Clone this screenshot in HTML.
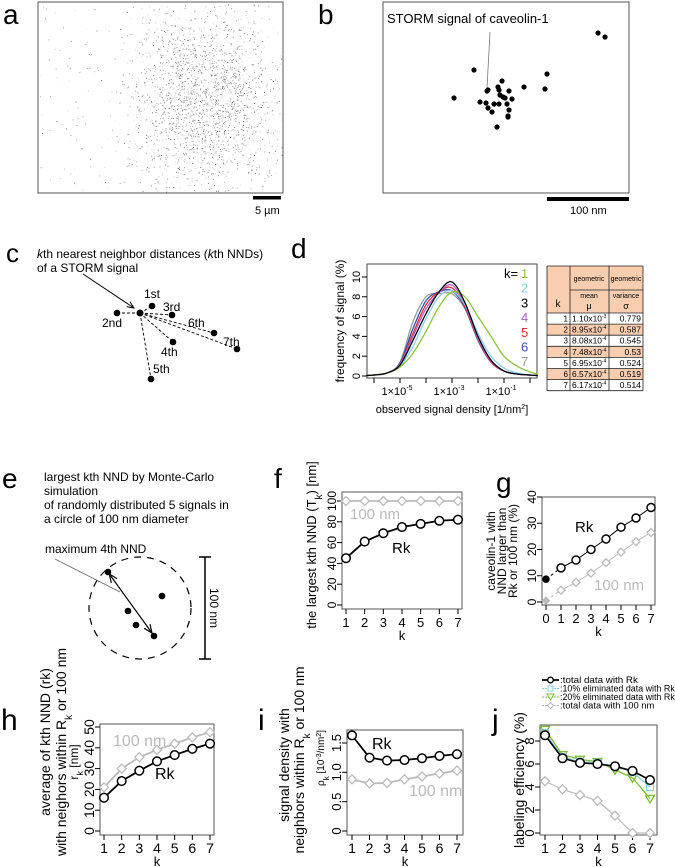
<!DOCTYPE html>
<html><head><meta charset="utf-8">
<style>
html,body{margin:0;padding:0;background:#fff;}
svg{display:block;font-family:"Liberation Sans",Arial,sans-serif;}
</style></head>
<body>
<svg id="fig" width="675" height="867" viewBox="0 0 675 867" xmlns="http://www.w3.org/2000/svg">
<defs>
<marker id="ah" markerWidth="8" markerHeight="8" refX="7" refY="4" orient="auto"><path d="M0,1 L7,4 L0,7" fill="none" stroke="#000" stroke-width="1"/></marker>
<marker id="ahs" markerWidth="8" markerHeight="8" refX="1" refY="4" orient="auto"><path d="M7,1 L0,4 L7,7" fill="none" stroke="#000" stroke-width="1"/></marker>
</defs>

<g>
<text x="3" y="24" font-size="28">a</text>
<rect x="38" y="2" width="245" height="191" fill="#fff" stroke="#555" stroke-width="1"/>
<g id="speckle"></g>
<rect x="253" y="196" width="28" height="3.5" fill="#000"/>
<text x="255" y="214" font-size="11">5 µm</text>
</g>

<g>
<text x="318" y="24" font-size="28">b</text>
<rect x="383" y="2" width="246" height="191" fill="none" stroke="#555" stroke-width="1"/>
<text x="387" y="23" font-size="13">STORM signal of caveolin-1</text>
<line x1="490" y1="32" x2="487" y2="88" stroke="#777" stroke-width="0.8"/>
<g id="bdots"></g>
<rect x="547" y="197" width="82" height="4" fill="#000"/>
<text x="570" y="214" font-size="11">100 nm</text>
</g>

<g>
<text x="6" y="262" font-size="26">c</text>
<text x="37" y="258" font-size="12"><tspan font-style="italic">k</tspan>th nearest neighbor distances (<tspan font-style="italic">k</tspan>th NNDs)</text>
<text x="37" y="272" font-size="12">of a STORM signal</text>
<line x1="83" y1="274" x2="134" y2="308" stroke="#000" stroke-width="1" marker-end="url(#ah)"/>
<g id="cnet"></g>
</g>

<g>
<text x="291" y="258" font-size="28">d</text>
<g id="dplot"></g>
<g id="dtable"></g>
</g>

<g>
<text x="2" y="488" font-size="28">e</text>
<text x="44" y="481" font-size="12">largest kth NND by Monte-Carlo</text>
<text x="44" y="495" font-size="12">simulation</text>
<text x="44" y="509" font-size="12">of randomly distributed 5 signals in</text>
<text x="44" y="523" font-size="12">a circle of 100 nm diameter</text>
<text x="45" y="553" font-size="12">maximum 4th NND</text>
<line x1="55" y1="559" x2="120" y2="592" stroke="#666" stroke-width="0.8"/>
<circle cx="140" cy="608" r="51" fill="none" stroke="#000" stroke-width="1.2" stroke-dasharray="7,6"/>
<line x1="110" y1="575" x2="152" y2="633" stroke="#000" stroke-width="1.2" marker-start="url(#ahs)" marker-end="url(#ah)"/>
<circle cx="108" cy="572" r="3.3"/>
<circle cx="162" cy="596" r="3.3"/>
<circle cx="128" cy="611" r="3.3"/>
<circle cx="136" cy="625" r="3.3"/>
<circle cx="154" cy="636" r="3.3"/>
<line x1="205" y1="557" x2="205" y2="659" stroke="#000" stroke-width="1.5"/>
<line x1="199" y1="557" x2="211" y2="557" stroke="#000" stroke-width="1.5"/>
<line x1="199" y1="659" x2="211" y2="659" stroke="#000" stroke-width="1.5"/>
<text x="0" y="0" font-size="12" text-anchor="middle" transform="translate(210,608) rotate(90)">100 nm</text>
</g>

<text x="274" y="488" font-size="28">f</text>
<g id="fplot"></g>
<text x="496" y="492" font-size="28">g</text>
<g id="gplot"></g>
<text x="1" y="730" font-size="30">h</text>
<g id="hplot"></g>
<text x="258" y="730" font-size="30">i</text>
<g id="iplot"></g>
<text x="492" y="730" font-size="30">j</text>
<g id="jplot"></g>
</svg>

<script>
const kCats = [1,2,3,4,5,6,7];
const kCatsG = [0,1,2,3,4,5,6,7];
const fRk = [45,61,69,75,78,81,82];
const f100 = [100,100,100,100,100,100,100];
const gRk = [8.7,13,16,20,24,28.5,32,36];
const g100 = [0.5,4.5,7.5,11,15,19,23,26.5];
const hRk = [16,24,29,33.5,36.5,39.5,42];
const h100 = [21,30,35.5,39,42,45,47.5];
const iRk = [1.63,1.25,1.2,1.21,1.24,1.28,1.31];
const i100 = [0.88,0.81,0.82,0.88,0.93,0.98,1.03];
const jTotal = [8.5,6.5,6.1,6.0,5.8,5.4,4.6];
const j10 = [8.7,6.6,6.2,6.1,5.8,5.3,4.0];
const j20 = [9.0,6.8,6.4,6.2,5.5,4.8,3.0];
const j100 = [4.5,3.8,3.3,2.8,1.5,0,0];
const dLogX = [-6.3,-6,-5.5,-5,-4.5,-4,-3.5,-3,-2.5,-2,-1.5,-1,-0.5,0,0.3];
const dK1 = [0.05,0.1,0.3,0.9,2.3,4.5,7.0,8.5,8.0,6.0,4.0,2.0,1.0,0.4,0.2];
const dK2 = [0.05,0.1,0.3,1.0,3.0,5.8,8.0,8.6,7.2,4.3,2.0,0.8,0.3,0.1,0.05];
const dK3 = [0.05,0.1,0.3,1.1,3.6,6.3,8.5,9.5,7.4,4.0,1.6,0.5,0.2,0.1,0.05];
const dK4 = [0.05,0.1,0.3,1.2,4.0,6.8,8.4,9.2,7.2,3.8,1.5,0.5,0.2,0.1,0.05];
const dK5 = [0.05,0.1,0.3,1.2,4.3,7.2,8.5,8.9,7.0,3.7,1.4,0.5,0.2,0.1,0.05];
const dK6 = [0.05,0.1,0.3,1.3,4.8,7.6,8.5,8.6,6.9,3.6,1.4,0.5,0.2,0.1,0.05];
const dK7 = [0.05,0.1,0.3,1.4,5.5,8.0,8.3,8.3,6.8,3.6,1.4,0.5,0.2,0.1,0.05];
const dKLabels = ['1','2','3','4','5','6','7'];
const tableK = ['1','2','3','4','5','6','7'];
const tableMean = ['1.10x10','8.95x10','8.08x10','7.48x10','6.95x10','6.57x10','6.17x10'];
const tableMeanExp = ['-3','-4','-4','-4','-4','-4','-4'];
const tableVar = ['0.779','0.587','0.545','0.53','0.524','0.519','0.514'];

const NS='http://www.w3.org/2000/svg';
function el(tag,attrs,parent,txt){const e=document.createElementNS(NS,tag);for(const k in attrs)e.setAttribute(k,attrs[k]);if(txt!==undefined)e.textContent=txt;parent.appendChild(e);return e;}

(function(){
  const g=document.getElementById('speckle');
  let s=12345;function r(){s=(s*1103515245+12345)%2147483648;return s/2147483648;}
  function gauss(){return (r()+r()+r()-1.5)*1.4;}
  for(let i=0;i<2400;i++){
    let x,y;
    if(i<2150){x=205+gauss()*48;y=100+gauss()*62;}
    else{x=40+r()*240;y=4+r()*188;}
    if(x<39||x>282||y<3||y>192)continue;
    const c=Math.floor(90+r()*140);
    const p=el('rect',{x:x.toFixed(1),y:y.toFixed(1),width:0.9,height:0.9,fill:`rgb(${c},${c},${c})`},g);
    
    
  }
})();

const bX=[598,605,474,547,454,524,545,502,487,488,498,499,509,500,503,505,512,480,486,494,499,507,488,492,509,508,508,497];
const bY=[33,37,70,74,98,87,89,81,91,90,87,90,91,95,97,98,99,102,103,104,104,104,108,112,110,116,117,127];
(function(){const g=document.getElementById('bdots');
  for(let i=0;i<bX.length;i++){const c=el('circle',{cx:bX[i],cy:bY[i],r:2.6,fill:'#000'},g);
    
    }
})();

(function(){const g=document.getElementById('cnet');
  const cx=140,cy=313;
  const pts=[[152,306,'1st',144,298],[117,313,'2nd',102,327],[172,315,'3rd',163,311],[173,342,'4th',161,356],[151,379,'5th',153,373],[214,333,'6th',188,327],[237,349,'7th',223,346]];
  pts.forEach(p=>{
    el('line',{x1:cx,y1:cy,x2:p[0],y2:p[1],stroke:'#000','stroke-width':0.9,'stroke-dasharray':'3,2'},g);
    const d=el('circle',{cx:p[0],cy:p[1],r:3.3},g);
    
    
    const t=el('text',{x:p[3],y:p[4],'font-size':12},g,p[2]);
    
    
  });
  const c=el('circle',{cx:cx,cy:cy,r:3.5},g);
  
  
})();

(function(){const g=document.getElementById('dplot');
  const X0=367,X1=537,Y0=378,Y1=264;
  const xs=v=>452+(v+3)*26, ys=v=>376-v*9.9;
  el('rect',{x:X0,y:Y1,width:X1-X0,height:Y0-Y1,fill:'none',stroke:'#444','stroke-width':1},g);
  [0,2,4,6,8,10].forEach(v=>{el('line',{x1:X0-5,x2:X0,y1:ys(v),y2:ys(v),stroke:'#000'},g);
    const t=el('text',{x:0,y:0,'font-size':11,'text-anchor':'middle',transform:`translate(${X0-7},${ys(v)}) rotate(-90)`},g,String(v));
    
    });
  [-6,-5,-4,-3,-2,-1,0].forEach(v=>el('line',{x1:xs(v),x2:xs(v),y1:Y0,y2:Y0+5,stroke:'#000'},g));
  [[-5,'1×10','-5'],[-3,'1×10','-3'],[-1,'1×10','-1']].forEach(a=>{
    const t=el('text',{x:xs(a[0])-3,y:395,'font-size':11,'text-anchor':'middle'},g,a[1]);
    
    
    el('tspan',{dy:-5,'font-size':7},t,a[2]);});
  const xl=el('text',{x:452,y:413,'font-size':11,'text-anchor':'middle'},g,'observed signal density [1/nm');
  
  
  el('tspan',{dy:-4,'font-size':7},xl,'2');el('tspan',{dy:4},xl,']');
  const yl=el('text',{x:0,y:0,'font-size':12,'text-anchor':'middle',transform:'translate(344,321) rotate(-90)'},g,'frequency of signal (%)');
  
  
  const series=[dK7,dK6,dK5,dK4,dK2,dK1,dK3];
  const cols=['#9a9a9a','#3550a8','#e03040','#b060c8','#88d0e8','#8cc43c','#000'];
  function pathFor(arr){const P=dLogX.map((v,i)=>[xs(v),ys(arr[i])]);let d=`M${P[0][0]},${P[0][1]}`;
    for(let i=0;i<P.length-1;i++){const p0=P[Math.max(0,i-1)],p1=P[i],p2=P[i+1],p3=P[Math.min(P.length-1,i+2)];
      d+=` C${p1[0]+(p2[0]-p0[0])/6},${p1[1]+(p2[1]-p0[1])/6} ${p2[0]-(p3[0]-p1[0])/6},${p2[1]-(p3[1]-p1[1])/6} ${p2[0]},${p2[1]}`;}return d;}
  series.forEach((s,i)=>{const p=el('path',{d:pathFor(s),fill:'none',stroke:cols[i],'stroke-width':1.3},g);
    
    });
  const lc=['#8cc43c','#88d0e8','#000','#b060c8','#e03040','#3550a8','#9a9a9a'];
  const kt=el('text',{x:504,y:278,'font-size':13},g,'k=');
  
  
  dKLabels.forEach((k,i)=>{const t=el('text',{x:521,y:278+i*14.7,'font-size':13,fill:lc[i]},g,k);
    
    });
})();
(function(){const g=document.getElementById('dtable');
  const cx=[547,570,609,643];const rh=11.1;
  el('rect',{x:547,y:266,width:96,height:47,fill:'#f8cdb0'},g);
  tableK.forEach((k,i)=>{const y=313+i*rh;
    el('rect',{x:547,y:y,width:96,height:rh,fill:i%2?'#f8cdb0':'#fff'},g);
    const a=el('text',{x:568,y:y+8.5,'font-size':8,'text-anchor':'end'},g,k);
    
    
    const b=el('text',{x:572,y:y+8.5,'font-size':8,textLength:30,lengthAdjust:'spacingAndGlyphs'},g,tableMean[i]);
    
    
    el('text',{x:602,y:y+5,'font-size':5},g,tableMeanExp[i]);
    const c=el('text',{x:641,y:y+8.5,'font-size':8.5,'text-anchor':'end'},g,tableVar[i]);
    
    
  });
  for(let i=0;i<=7;i++)el('line',{x1:547,x2:643,y1:313+i*rh,y2:313+i*rh,stroke:'#222','stroke-width':0.8},g);
  [266,290].forEach(y=>el('line',{x1:547,x2:643,y1:y,y2:y,stroke:'#222','stroke-width':0.8},g));
  el('line',{x1:547,x2:570,y1:290,y2:290,stroke:'#f8cdb0','stroke-width':1.5},g);
  cx.forEach(x=>el('line',{x1:x,x2:x,y1:266,y2:313+7*rh,stroke:'#222','stroke-width':0.8},g));
  [['geometric',589,281,7],['geometric',626,281,7],['mean',589,298,7],['μ',589,309,9],['variance',626,298,7],['σ',626,309,9],['k',558,307,10]].forEach(a=>{
    const t=el('text',{x:a[1],y:a[2],'font-size':a[3],'text-anchor':'middle'},g,a[0]);
    
    });
})();

function lineChart(id,cfg){
  const g=document.getElementById(id);
  const xs=v=>cfg.xp[0]+(v-cfg.xd[0])*(cfg.xp[1]-cfg.xp[0])/(cfg.xd[1]-cfg.xd[0]);
  const ys=v=>cfg.yp[0]+(v-cfg.yd[0])*(cfg.yp[1]-cfg.yp[0])/(cfg.yd[1]-cfg.yd[0]);
  const B=cfg.box;
  const tf=cfg.tf||12, xf=cfg.xf||13;
  el('rect',{x:B[0],y:B[1],width:B[2]-B[0],height:B[3]-B[1],fill:'none',stroke:'#555','stroke-width':1},g);
  cfg.yt.forEach((v,i)=>{el('line',{x1:B[0]-5,x2:B[0],y1:ys(v),y2:ys(v),stroke:'#000'},g);
    const t=el('text',{x:0,y:0,'font-size':tf,'text-anchor':'middle',transform:`translate(${B[0]-(cfg.to||6)},${ys(v)}) rotate(-90)`},g,cfg.ytl[i]);
    
    });
  cfg.xc.forEach(v=>{el('line',{x1:xs(v),x2:xs(v),y1:B[3],y2:B[3]+5,stroke:'#000'},g);
    const t=el('text',{x:xs(v),y:B[3]+18,'font-size':xf,'text-anchor':'middle'},g,String(v));
    
    });
  const kl=el('text',{x:(B[0]+B[2])/2,y:B[3]+31,'font-size':13,'text-anchor':'middle'},g,'k');
  
  
  cfg.ylab.forEach(l=>{const t=el('text',{x:0,y:0,'font-size':l[2]||13,'text-anchor':'middle',transform:`translate(${l[0]},${l[3]||(B[1]+B[3])/2}) rotate(-90)`},g);
    t.innerHTML=l[1];
    
    });
  cfg.series.forEach(s=>{
    const xsv=s.x||cfg.xc;
    const pts=xsv.map((v,i)=>[xs(v),ys(s.y[i])]);
    for(let i=0;i<pts.length-1;i++){
      const ln=el('line',{x1:pts[i][0],y1:pts[i][1],x2:pts[i+1][0],y2:pts[i+1][1],stroke:s.c,'stroke-width':s.w||1.8},g);
      if(s.dashFirst&&i===0)ln.setAttribute('stroke-dasharray','3,3');
      
      }
    pts.forEach((p,i)=>{let m;
      const filled=s.fillFirst&&i===0;
      const rr=filled?3:(s.r||4.3);
      if(s.m==='o')m=el('circle',{cx:p[0],cy:p[1],r:rr,fill:filled?s.c:'#fff',stroke:s.c,'stroke-width':1.5},g);
      else if(s.m==='d'){const r=filled?3.5:(s.r||4.5);m=el('path',{d:`M${p[0]},${p[1]-r} L${p[0]+r},${p[1]} L${p[0]},${p[1]+r} L${p[0]-r},${p[1]} Z`,fill:filled?s.c:'#fff',stroke:s.c,'stroke-width':1.3},g);}
      else if(s.m==='s')m=el('rect',{x:p[0]-3.5,y:p[1]-3.5,width:7,height:7,fill:'none',stroke:s.c,'stroke-width':1.2},g);
      else if(s.m==='t'){const r=4.5;m=el('path',{d:`M${p[0]-r},${p[1]-r*0.7} L${p[0]+r},${p[1]-r*0.7} L${p[0]},${p[1]+r} Z`,fill:'none',stroke:s.c,'stroke-width':1.3},g);}
      
      });
  });
  (cfg.labels||[]).forEach(l=>{const t=el('text',{x:l[0],y:l[1],'font-size':l[4]||15,fill:l[3]},g,l[2]);
    
    });
  return g;
}
const GR='#bbbbbb';
lineChart('fplot',{box:[342,492,462,609],xd:[1,7],xp:[346,458],yd:[0,100],yp:[605,501],xc:kCats,
  yt:[0,20,40,60,80,100],ytl:['0','20','40','60','80','100'],
  ylab:[[316,'the largest kth NND (T<tspan baseline-shift="sub" font-size="10">k</tspan>) [nm]',13,545]],
  series:[{y:f100,c:GR,m:'d'},{y:fRk,c:'#000',m:'o'}],
  labels:[[350,519,'100 nm',GR],[392,553,'Rk','#000']]});
lineChart('gplot',{box:[542,497,655,605],xd:[0,7],xp:[546,651],yd:[0,40],yp:[602,497],xc:kCatsG,
  yt:[0,10,20,30,40],ytl:['0','10','20','30','40'],
  ylab:[[495,'caveolin-1 with',12],[506,'NND larger than',12],[517,'Rk or 100 nm (%)',12]],
  series:[{x:kCatsG,y:g100,c:GR,m:'d',w:1,dashFirst:true,fillFirst:true,r:4},{x:kCatsG,y:gRk,c:'#000',m:'o',w:1,dashFirst:true,fillFirst:true,r:4}],
  labels:[[575,532,'Rk','#000'],[594,590,'100 nm',GR]]});
lineChart('hplot',{box:[100,724,214,835],xd:[1,7],xp:[104,210],yd:[0,50],yp:[831,727],xc:kCats,tf:14,xf:14,to:6,
  yt:[0,10,20,30,40,50],ytl:['0','10','20','30','40','50'],
  ylab:[[50,'average of kth NND (rk)',14,742],[66,'with neighors within R<tspan baseline-shift="sub" font-size="10">k</tspan> or 100 nm',14,752],[78,'r<tspan baseline-shift="sub" font-size="9">k</tspan> [nm]',12,762]],
  series:[{y:h100,c:GR,m:'d'},{y:hRk,c:'#000',m:'o'}],
  labels:[[113,746,'100 nm',GR,16],[155,779,'Rk','#000',16]]});
lineChart('iplot',{box:[347,730,463,835],xd:[1,7],xp:[352,457],yd:[0,1.5],yp:[831,743],xc:kCats,tf:13,xf:14,
  yt:[0,0.5,1.0,1.5],ytl:['0','0.5','1.0','1.5'],
  ylab:[[289,'signal  density with',14,765],[304,'neighbors within R<tspan baseline-shift="sub" font-size="10">k</tspan> or 100 nm',14,760],[324,'ρ<tspan baseline-shift="sub" font-size="8">k</tspan> [10<tspan baseline-shift="super" font-size="7">-3</tspan>/nm<tspan baseline-shift="super" font-size="7">2</tspan>]',10,758]],
  series:[{y:i100,c:GR,m:'d'},{y:iRk,c:'#000',m:'o'}],
  labels:[[372,749,'Rk','#000',16],[409,796,'100 nm',GR,16]]});
lineChart('jplot',{box:[540,725,657,835],xd:[1,7],xp:[545,650],yd:[0,8],yp:[833,741],xc:kCats,tf:13,xf:14,
  yt:[0,2,4,6,8],ytl:['0','2','4','6','8'],
  ylab:[[524,'labeling efficiency (%)',14,780]],
  series:[{y:j100,c:GR,m:'d',w:1.2},{y:j20,c:'#7cc030',m:'t',w:1.3},{y:j10,c:'#88cce0',m:'s',w:1.3},{y:jTotal,c:'#000',m:'o',w:1.6}]});
(function(){const g=document.getElementById('jplot');
  const items=[['#000','o',':total data with Rk'],['#88cce0','s',':10% eliminated data with Rk'],['#7cc030','t',':20% eliminated data with Rk'],[GR,'d',':total data with 100 nm']];
  items.forEach((it,i)=>{const y=683+i*8.5;
    el('line',{x1:542,x2:559,y1:y-3,y2:y-3,stroke:it[0],'stroke-width':it[1]==='o'?1.8:1,'stroke-dasharray':it[1]==='o'?'':'2,1'},g);
    if(it[1]==='o')el('circle',{cx:550.5,cy:y-3,r:2.8,fill:'#fff',stroke:it[0],'stroke-width':1.3},g);
    if(it[1]==='s')el('rect',{x:548,y:y-5.5,width:5,height:5,fill:'#fff',stroke:it[0]},g);
    if(it[1]==='t')el('path',{d:`M547,${y-6} L554,${y-6} L550.5,${y} Z`,fill:'#fff',stroke:it[0]},g);
    if(it[1]==='d')el('path',{d:`M550.5,${y-6} L553.5,${y-3} L550.5,${y} L547.5,${y-3} Z`,fill:'#fff',stroke:it[0]},g);
    const t=el('text',{x:560,y:y,'font-size':9,textLength:it[2].length*4.1,lengthAdjust:'spacingAndGlyphs'},g,it[2]);
    
    });
})();
</script>
</body></html>
